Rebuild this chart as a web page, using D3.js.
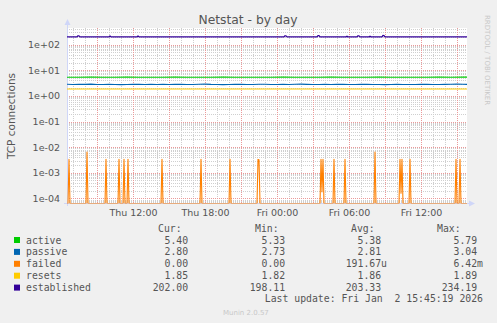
<!DOCTYPE html>
<head>
  <meta charset="utf-8">
  <script src="https://d3js.org/d3.v7.min.js"></script>
  <style>
  body { margin: 0; background: #f0f0f0; }
  text { font-family: "DejaVu Sans", sans-serif; fill: #555; }
  .mono { font-family: "DejaVu Sans Mono", monospace; font-size: 9.8px; white-space: pre; }
  .axis .domain, .axis line { display: none; }
  .axis text { font-size: 9.5px; fill: #555; font-family: "DejaVu Sans", sans-serif; }
</style>
</head>
<body>
<svg width="497" height="323"></svg>

<script type="text/javascript">
// Munin day graph: 400 px, one pixel per 5 minutes
var start = new Date(2026, 0, 1, 6, 30);
var end = new Date(2026, 0, 2, 15, 50);

var seriesNames = ["active", "passive", "failed", "resets", "established"];
var seriesColors = ["#00cc00", "#0066b3", "#ff8000", "#ffcc00", "#330099"];

// hourly samples from start
var active = [5.38, 5.36, 5.40, 5.38, 5.37, 5.39, 5.38, 5.36, 5.38, 5.40, 5.38, 5.37,
  5.38, 5.39, 5.38, 5.36, 5.38, 5.38, 5.40, 5.38, 5.37, 5.38, 5.39, 5.38, 5.36, 5.38,
  5.40, 5.38, 5.37, 5.38, 5.38, 5.39, 5.38, 5.40, 5.40];
var resets = [1.86, 1.86, 1.85, 1.86, 1.87, 1.86, 1.86, 1.85, 1.86, 1.86, 1.87, 1.86,
  1.86, 1.85, 1.86, 1.86, 1.86, 1.87, 1.86, 1.86, 1.85, 1.86, 1.86, 1.86, 1.87, 1.86,
  1.86, 1.85, 1.86, 1.86, 1.86, 1.86, 1.85, 1.85, 1.85];
// half-hourly samples from start
var passive = [2.84, 2.80, 2.86, 2.82, 2.88, 2.80, 2.78, 2.84, 2.80, 2.76, 2.78, 2.82,
  2.86, 2.80, 2.84, 2.78, 2.82, 2.80, 2.86, 2.82, 2.78, 2.80, 2.84, 2.88, 2.82, 2.80,
  2.76, 2.80, 2.84, 2.82, 2.78, 2.80, 2.86, 2.84, 2.80, 2.78, 2.82, 2.80, 2.84, 2.88,
  2.82, 2.78, 2.80, 2.84, 2.80, 2.82, 2.86, 2.80, 2.78, 2.82, 2.84, 2.80, 2.78, 2.76,
  2.80, 2.82, 2.80, 2.78, 2.80, 2.84, 2.82, 2.78, 2.80, 2.82, 2.86, 2.90, 2.84, 2.80];
// established: baseline with short bumps
var established = [
  ["2026-01-01T06:30", 201], ["2026-01-01T07:20", 201], ["2026-01-01T07:25", 222], ["2026-01-01T07:30", 220], ["2026-01-01T07:35", 201],
  ["2026-01-01T10:00", 201], ["2026-01-01T10:05", 218], ["2026-01-01T10:10", 201],
  ["2026-01-01T12:20", 201], ["2026-01-01T12:25", 218], ["2026-01-01T12:30", 201],
  ["2026-01-02T00:35", 201], ["2026-01-02T00:40", 222], ["2026-01-02T00:45", 220], ["2026-01-02T00:50", 201],
  ["2026-01-02T03:20", 201], ["2026-01-02T03:25", 226], ["2026-01-02T03:30", 224], ["2026-01-02T03:35", 201],
  ["2026-01-02T05:45", 201], ["2026-01-02T05:50", 214], ["2026-01-02T05:55", 201],
  ["2026-01-02T06:40", 201], ["2026-01-02T06:45", 222], ["2026-01-02T06:50", 220], ["2026-01-02T06:55", 201],
  ["2026-01-02T07:40", 201], ["2026-01-02T07:45", 214], ["2026-01-02T07:50", 201],
  ["2026-01-02T08:45", 201], ["2026-01-02T08:50", 228], ["2026-01-02T08:55", 226], ["2026-01-02T09:00", 201],
  ["2026-01-02T15:50", 201]
];
// failed: non-zero 5-minute samples only, zero elsewhere
var failed = [
  ["2026-01-01T06:40", 3.33e-3], ["2026-01-01T08:10", 6.42e-3], ["2026-01-01T09:45", 3.33e-3],
  ["2026-01-01T10:50", 3.33e-3], ["2026-01-01T11:15", 3.33e-3], ["2026-01-01T11:35", 3.33e-3],
  ["2026-01-01T14:25", 3.33e-3], ["2026-01-01T17:40", 3.33e-3], ["2026-01-01T20:05", 3.33e-3],
  ["2026-01-01T22:25", 3.33e-3], ["2026-01-01T22:30", 3.2e-3],
  ["2026-01-02T03:40", 3.33e-3], ["2026-01-02T03:45", 1.8e-4], ["2026-01-02T03:50", 3.33e-3],
  ["2026-01-02T04:45", 3.33e-3], ["2026-01-02T05:40", 3.33e-3], ["2026-01-02T08:10", 6.42e-3],
  ["2026-01-02T10:15", 3.33e-3], ["2026-01-02T10:20", 1.6e-4], ["2026-01-02T10:25", 3.33e-3],
  ["2026-01-02T11:05", 3.33e-3], ["2026-01-02T14:55", 3.33e-3], ["2026-01-02T15:15", 3.33e-3]
];

var legendCur = ["5.40 ", "2.80 ", "0.00 ", "1.85 ", "202.00 "];
var legendMin = ["5.33 ", "2.73 ", "0.00 ", "1.82 ", "198.11 "];
var legendAvg = ["5.38 ", "2.81 ", "191.67u", "1.86 ", "203.33 "];
var legendMax = ["5.79 ", "3.04 ", "6.42m", "1.89 ", "234.19 "];
var yTicks = [1e-4, 1e-3, 1e-2, 1e-1, 1, 10, 100];

var svg = d3.select("svg");
var pLeft = 67, pRight = 467, pTop = 28, pBottom = 203;

var x = d3.scaleTime().domain([start, end]).range([pLeft, pRight]);
var y = d3.scaleLog().domain([Math.pow(10, -4.18), Math.pow(10, 2.65)]).range([pBottom, pTop]);

svg.append("rect").attr("x", pLeft).attr("y", pTop).attr("width", pRight - pLeft).attr("height", pBottom - pTop).attr("fill", "#fff");

// grid
var minorY = [];
for (var e = -5; e <= 2; e++) for (var m = 2; m <= 9; m++) minorY.push(m * Math.pow(10, e));
minorY = minorY.filter(function(v) { return y(v) > pTop && y(v) < pBottom; });

var grid = svg.append("g").attr("stroke-dasharray", "1,1").attr("shape-rendering", "crispEdges");
grid.selectAll(".hminor").data(minorY).enter().append("line")
  .attr("x1", pLeft).attr("x2", pRight)
  .attr("y1", function(d) { return Math.round(y(d)) + 0.5; }).attr("y2", function(d) { return Math.round(y(d)) + 0.5; })
  .attr("stroke", "#cfcfcf");
grid.selectAll(".vminor").data(x.ticks(d3.timeHour.every(1))).enter().append("line")
  .attr("x1", function(d) { return Math.round(x(d)) + 0.5; }).attr("x2", function(d) { return Math.round(x(d)) + 0.5; })
  .attr("y1", pTop).attr("y2", pBottom)
  .attr("stroke", "#cfcfcf");
grid.selectAll(".hmajor").data(yTicks).enter().append("line")
  .attr("x1", pLeft).attr("x2", pRight)
  .attr("y1", function(d) { return Math.round(y(d)) + 0.5; }).attr("y2", function(d) { return Math.round(y(d)) + 0.5; })
  .attr("stroke", "#eb9a9a");
grid.selectAll(".vmajor").data(x.ticks(d3.timeHour.every(3))).enter().append("line")
  .attr("x1", function(d) { return Math.round(x(d)) + 0.5; }).attr("x2", function(d) { return Math.round(x(d)) + 0.5; })
  .attr("y1", pTop).attr("y2", pBottom)
  .attr("stroke", "#eb9a9a");

// axes labels
svg.append("g").attr("class", "axis").attr("transform", "translate(" + (pLeft - 1) + ",0)")
  .call(d3.axisLeft(y).tickValues(yTicks).tickSize(0).tickPadding(6)
    .tickFormat(function(d) {
      var p = Math.round(Math.log10(d));
      return "1e" + (p < 0 ? "-" : "+") + (Math.abs(p) < 10 ? "0" : "") + Math.abs(p);
    }));
svg.append("g").attr("class", "axis").attr("transform", "translate(0," + pBottom + ")")
  .call(d3.axisBottom(x).ticks(d3.timeHour.every(6)).tickSize(0).tickPadding(6)
    .tickFormat(d3.timeFormat("%a %H:%M")));

// axis lines with arrows
var axisCol = "#cfd6f8";
svg.append("line").attr("x1", pLeft + 0.5).attr("x2", pLeft + 0.5).attr("y1", pBottom + 3).attr("y2", pTop - 4).attr("stroke", axisCol);
svg.append("line").attr("x1", pLeft - 3).attr("x2", pRight + 3).attr("y1", pBottom + 0.5).attr("y2", pBottom + 0.5).attr("stroke", axisCol);
svg.append("path").attr("d", "M" + (pLeft - 2.5) + "," + (pTop - 3) + "L" + (pLeft + 0.5) + "," + (pTop - 9) + "L" + (pLeft + 3.5) + "," + (pTop - 3) + "Z").attr("fill", axisCol);
svg.append("path").attr("d", "M" + (pRight + 2) + "," + (pBottom - 2.5) + "L" + (pRight + 8) + "," + (pBottom + 0.5) + "L" + (pRight + 2) + "," + (pBottom + 3.5) + "Z").attr("fill", axisCol);

// series
svg.append("clipPath").attr("id", "clip").append("rect")
  .attr("x", pLeft).attr("y", pTop - 2).attr("width", pRight - pLeft).attr("height", pBottom - pTop + 2.5);
var plot = svg.append("g").attr("clip-path", "url(#clip)");

var parse = function(s) { return new Date(s); };
function onGrid(arr, stepMin) {
  return arr.map(function(v, i) { return [new Date(+start + i * stepMin * 60000), v]; });
}
// zero on a log axis sits on the bottom edge
var yv = function(v) { return v > 0 ? y(v) : pBottom + 0.5; };

var failedPts = [[start, 0]];
var fs = failed.map(function(d) { return [parse(d[0]), d[1]]; });
fs.forEach(function(d, i) {
  var prev = fs[i - 1], next = fs[i + 1];
  if (!prev || +d[0] - prev[0] > 300000) failedPts.push([new Date(+d[0] - 300000), 0]);
  failedPts.push(d);
  if (!next || +next[0] - d[0] > 300000) failedPts.push([new Date(+d[0] + 300000), 0]);
});
failedPts.push([end, 0]);

var seriesData = [
  onGrid(active, 60),
  onGrid(passive, 30),
  failedPts,
  onGrid(resets, 60),
  established.map(function(d) { return [parse(d[0]), d[1]]; })
];

var line = d3.line().x(function(d) { return x(d[0]); }).y(function(d) { return yv(d[1]); });
[2, 3, 0, 1, 4].forEach(function(k) {
  plot.append("path").datum(seriesData[k]).attr("d", line)
    .attr("fill", "none").attr("stroke", seriesColors[k]).attr("stroke-width", k == 4 ? 1.3 : 1.1)
    .attr("stroke-linejoin", "round");
});

// titles
svg.append("text").attr("x", 248).attr("y", 24).attr("text-anchor", "middle").attr("font-size", "12.3px").text("Netstat - by day");
svg.append("text").attr("transform", "translate(15,116) rotate(-90)").attr("text-anchor", "middle").attr("font-size", "10.5px").text("TCP connections");
svg.append("text").attr("transform", "translate(485,15) rotate(90)").attr("font-size", "7px").style("fill", "#c8c8c8").text("RRDTOOL / TOBI OETIKER");
svg.append("text").attr("x", 223).attr("y", 315).attr("font-size", "7px").style("fill", "#c8c8c8").text("Munin 2.0.57");

// legend
var lg = svg.append("g");
var headerX = [158, 255, 351, 437], headers = ["Cur:", "Min:", "Avg:", "Max:"];
headers.forEach(function(h, i) {
  lg.append("text").attr("class", "mono").attr("x", headerX[i]).attr("y", 231.5).text(h);
});
var colRight = [194, 291, 387, 483], cols = [legendCur, legendMin, legendAvg, legendMax];
seriesNames.forEach(function(name, i) {
  var by = 243.5 + i * 11.9;
  lg.append("rect").attr("x", 14).attr("y", by - 6.5).attr("width", 6).attr("height", 6).attr("fill", seriesColors[i]);
  lg.append("text").attr("class", "mono").attr("x", 26).attr("y", by).text(name);
  cols.forEach(function(c, j) {
    lg.append("text").attr("class", "mono").attr("x", colRight[j]).attr("y", by).attr("text-anchor", "end").text(c[i]);
  });
});
lg.append("text").attr("class", "mono").attr("x", 483).attr("y", 302).attr("text-anchor", "end").text("Last update: Fri Jan  2 15:45:19 2026");
</script>

</body>
</html>
